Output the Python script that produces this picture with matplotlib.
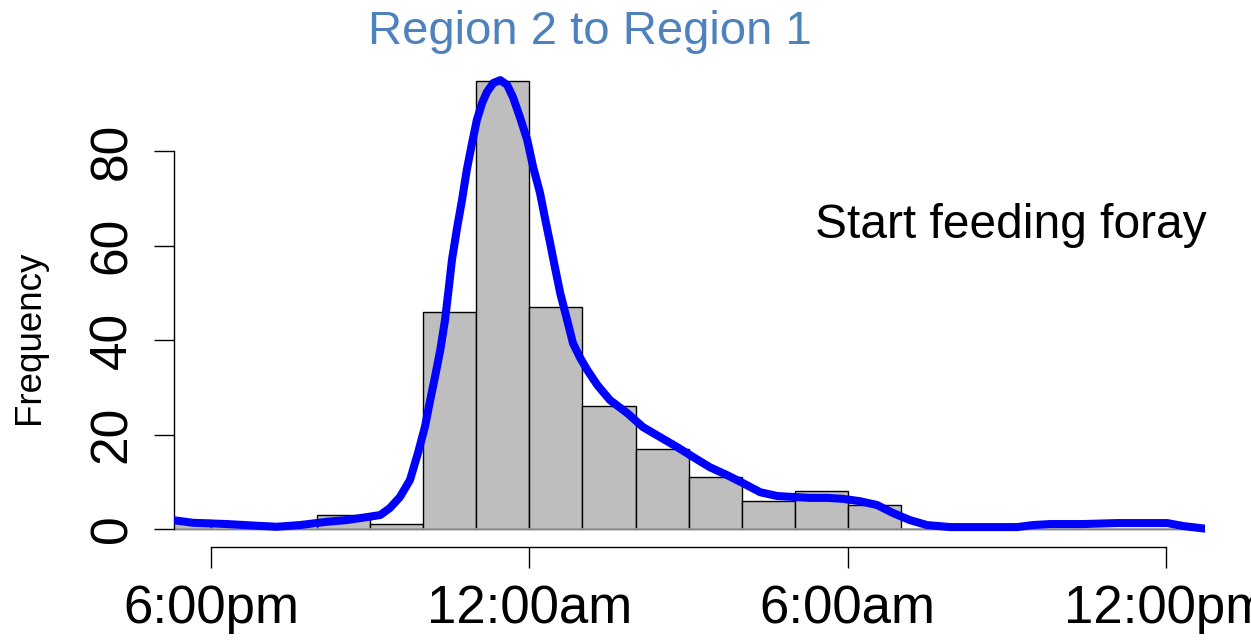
import matplotlib
matplotlib.use("Agg")
import matplotlib.pyplot as plt
import numpy as np

plt.rcParams['font.family'] = ['Liberation Sans', 'DejaVu Sans']

# Data: hours after 6:00pm
bin_edges = list(range(-1, 20))
counts = [2, 0, 0, 3, 1, 46, 95, 47, 26, 17, 11, 6, 8, 5, 0, 0, 0, 0, 0, 0]

curve_hours = [-0.72, -0.34, 0.30, 0.87, 1.24, 1.68, 2.19, 2.56, 2.94, 3.19, 3.37,
               3.56, 3.75, 3.90, 4.03, 4.13, 4.22, 4.32, 4.41, 4.47, 4.54, 4.64,
               4.73, 4.82, 4.92, 5.01, 5.11, 5.20, 5.32, 5.45, 5.58, 5.69, 5.82,
               5.96, 6.07, 6.20, 6.30, 6.39, 6.48, 6.58, 6.71, 6.82, 6.95, 7.09,
               7.28, 7.52, 7.84, 8.14, 8.46, 8.78, 9.08, 9.40, 9.73, 10.03, 10.35,
               10.67, 10.97, 11.29, 11.61, 11.91, 12.23, 12.55, 12.85, 13.17, 13.49,
               13.93, 14.55, 15.19, 15.49, 15.81, 16.43, 17.07, 17.70, 18.02, 18.32,
               18.64, 18.80]
curve_values = [1.9, 1.33, 1.06, 0.70, 0.49, 0.85, 1.55, 1.91, 2.54, 2.97, 4.45,
                6.78, 10.4, 16.1, 21.6, 27.3, 32.2, 37.9, 44.3, 50.0, 57.0, 64.0,
                69.7, 76.1, 81.8, 86.7, 90.3, 92.6, 94.5, 95.1, 94.1, 91.5, 87.3,
                82.4, 76.7, 71.2, 65.5, 60.6, 55.5, 50.0, 44.3, 39.4, 36.4, 33.7,
                30.5, 27.3, 24.6, 21.6, 19.5, 17.4, 15.3, 13.1, 11.4, 9.7, 7.8,
                7.0, 6.8, 6.6, 6.6, 6.4, 5.9, 5.1, 3.4, 1.9, 0.85,
                0.42, 0.42, 0.42, 0.85, 1.06, 1.06, 1.27, 1.27, 1.27, 0.64,
                0.21, 0.0]

x_ticks = [0, 6, 12, 18]
x_labels = ["6:00pm", "12:00am", "6:00am", "12:00pm"]
y_ticks = [0, 20, 40, 60, 80]

W, H = 1251, 642
fig = plt.figure(figsize=(W / 100, H / 100), dpi=100)
ax = fig.add_axes([174 / W, (H - 547) / H, (1205 - 174) / W, (547 - 62.7) / H])

lefts = bin_edges[:-1]
widths = np.diff(bin_edges)
ax.bar(lefts, counts, width=widths, align='edge', color='#BEBEBE',
       edgecolor='black', linewidth=1.0, zorder=2)
ax.axhline(0, color='#A0A0A0', linewidth=1.2, zorder=2.5)
ax.plot(curve_hours, curve_values, color='#0000FF', linewidth=5.8,
        solid_capstyle='round', zorder=3)

ax.set_xlim(-0.697, 18.73)
ax.set_ylim(-3.8, 98.8)

for s in ['top', 'right']:
    ax.spines[s].set_visible(False)
ax.spines['left'].set_bounds(0, 80)
ax.spines['bottom'].set_bounds(0, 18)
ax.spines['left'].set_linewidth(1.0)
ax.spines['bottom'].set_linewidth(1.0)

ax.set_xticks(x_ticks)
ax.set_xticklabels(x_labels, fontsize=38)
ax.set_yticks(y_ticks)
ax.set_yticklabels([str(v) for v in y_ticks], fontsize=37, rotation=90, va='center')
ax.tick_params(axis='x', length=15, width=1.0, pad=12)
ax.tick_params(axis='y', length=14.5, width=1.0, pad=12)

fig.text(590 / W, (H - 32) / H, "Region 2 to Region 1", color='#4F81BD',
         fontsize=34, ha='center', va='center')
fig.text(30 / W, (H - 337) / H, "Frequency", fontsize=26.5, rotation=90,
         ha='center', va='center')
ax.text(15.08, 64.4, "Start feeding foray", fontsize=34.5, ha='center', va='center')

fig.savefig("out.png", dpi=100)
